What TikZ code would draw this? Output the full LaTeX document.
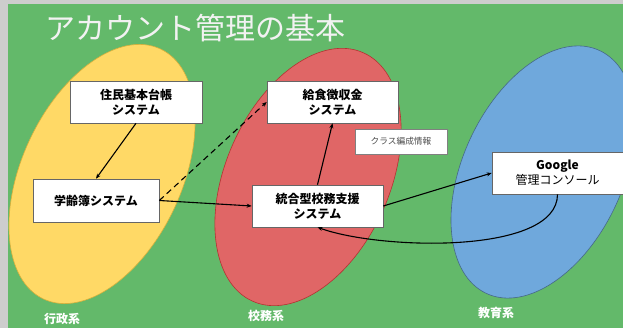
\documentclass[tikz,border=0pt]{standalone}
\usepackage{fontspec}
\setmainfont{Noto Sans CJK JP}
\newfontfamily\jpfont{Noto Sans CJK JP}
\usetikzlibrary{arrows.meta}
\definecolor{bggreen}{RGB}{99,185,106}
\definecolor{ygold}{RGB}{255,217,102}
\definecolor{yline}{RGB}{214,176,60}
\definecolor{rred}{RGB}{224,102,102}
\definecolor{rline}{RGB}{180,50,50}
\definecolor{bblue}{RGB}{111,168,220}
\definecolor{bline}{RGB}{70,105,135}
\definecolor{edgegray}{RGB}{205,205,205}
\tikzset{
  sysbox/.style={draw=black!60, line width=0.6pt, fill=white, align=center, inner sep=0pt,
    font=\jpfont\fontsize{12}{15}\selectfont\bfseries},
  infobox/.style={draw=black!50, line width=0.6pt, fill=white, inner sep=0pt,
    font=\jpfont\fontsize{8.7}{10}\selectfont, text=black!70},
  grouplabel/.style={text=white, font=\jpfont\fontsize{12}{14}\selectfont\bfseries},
  conn/.style={draw=black, line width=1.1pt, -{Stealth[length=5pt,width=4pt]}},
}
\begin{document}
\begin{tikzpicture}[x=1pt,y=-1pt]
\useasboundingbox (0,0) rectangle (623,328);
\fill[edgegray] (0,0) rectangle (623,328);
\fill[bggreen] (8,4) rectangle (623,328);
% ellipses
\draw[fill=ygold, draw=yline, line width=0.6pt, rotate around={65:(102,174)}] (102,174) ellipse (138 and 80);
\draw[fill=rred, draw=rline, line width=0.6pt, rotate around={66:(308,177)}] (308,177) ellipse (136 and 82);
\draw[fill=bblue, draw=bline, line width=0.6pt, rotate around={65:(543,172)}] (543,172) ellipse (134 and 80);
% title
\node[text=white!95!black, font=\jpfont\fontsize{30}{34}\selectfont, inner sep=0pt] (title) at (195,28) {アカウント管理の基本};
% boxes
\node[sysbox, minimum width=132pt, minimum height=42pt] (jumin) at (136,102) {住民基本台帳\\システム};
\node[sysbox, minimum width=126pt, minimum height=43pt] (gakurei) at (96,200.5) {学齢簿システム};
\node[sysbox, minimum width=131pt, minimum height=42pt] (kyushoku) at (332.5,102) {給食徴収金\\システム};
\node[infobox, minimum width=92pt, minimum height=25pt] (classinfo) at (401,141.5) {クラス編成情報};
\node[sysbox, minimum width=131pt, minimum height=42pt] (togo) at (317.5,206) {統合型校務支援\\システム};
\node[sysbox, minimum width=131pt, minimum height=42pt] (google) at (557.5,173) {Google\\{\mdseries 管理コンソール}};
% group labels
\node[grouplabel] (gyosei) at (62,319) {行政系};
\node[grouplabel] (komu) at (266,316) {校務系};
\node[grouplabel] (kyoiku) at (496,313) {教育系};
% connectors
\draw[conn] (jumin.south) -- (gakurei.north);
\draw[conn] (gakurei.east) -- (togo.west);
\draw[conn, dashed, dash pattern=on 6pt off 4pt] (gakurei.east) -- (kyushoku.west);
\draw[conn] (togo.north) -- (kyushoku.south);
\draw[conn] (togo.east) -- (google.west);
\draw[conn] (google.south) .. controls (557.5,255) and (380,250) .. (togo.south);
\end{tikzpicture}
\end{document}
